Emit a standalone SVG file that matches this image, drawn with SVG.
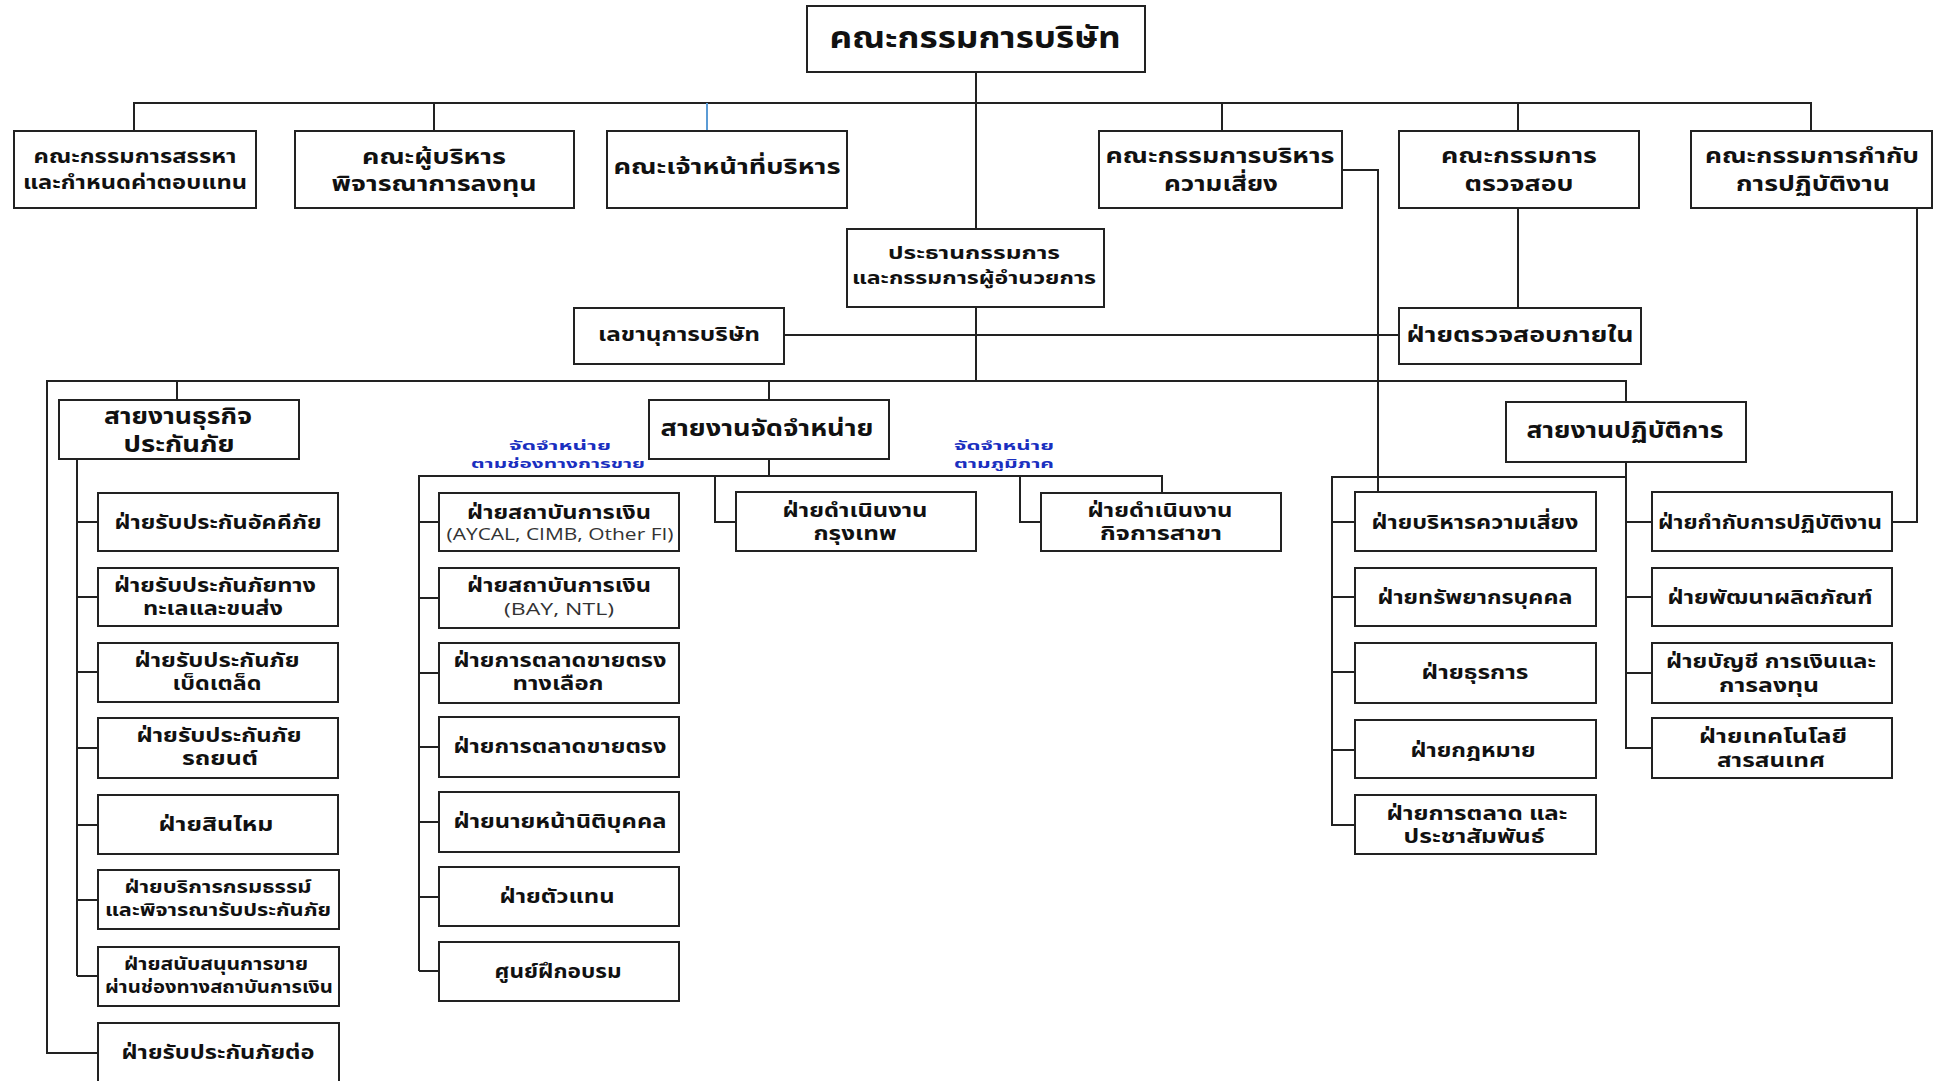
<svg xmlns="http://www.w3.org/2000/svg" width="1941" height="1081" viewBox="0 0 1941 1081">
<style>
.bg{fill:#fff}
.box{fill:#fff;stroke:#222;stroke-width:2}
.t{font-family:"Noto Sans Thai","Noto Sans","DejaVu Sans",sans-serif;font-weight:bold;text-anchor:middle;fill:#111;font-size:20px}
.big{font-size:30px}
.l2{font-size:21px}
.l1{font-size:19px}
.l3{font-size:23px}
.sm{font-size:17px}
.lat{font-family:"Open Sans","Noto Sans",sans-serif;font-weight:normal;fill:#333;font-size:16px}
.blue{font-family:"Noto Sans Thai","Noto Sans","DejaVu Sans",sans-serif;font-weight:bold;text-anchor:middle;fill:#1a2fbf;font-size:13px}
.c{fill:none;stroke:#222;stroke-width:2}
.cb{fill:none;stroke:#5b9bd5;stroke-width:2}
</style>
<rect class="bg" x="0" y="0" width="1941" height="1081"/>
<g id="connectors">
<path class="c" d="M976,72 V229"/>
<path class="c" d="M134,131 V103 H1811 V131"/>
<path class="c" d="M434,103 V131"/>
<path class="cb" d="M707,103 V131"/>
<path class="c" d="M1222,103 V131"/>
<path class="c" d="M1518,103 V131"/>
<path class="c" d="M1342,170 H1378 V492"/>
<path class="c" d="M1518,208 V308"/>
<path class="c" d="M1917,208 V522 H1891"/>
<path class="c" d="M976,307 V381"/>
<path class="c" d="M784,335 H1399"/>
<path class="c" d="M98,1053 H47 V381 H1626 V402"/>
<path class="c" d="M177,381 V400"/>
<path class="c" d="M769,381 V400"/>
<path class="c" d="M77,459 V976"/>
<path class="c" d="M77,522 H98 M77,597 H98 M77,672 H98 M77,748 H98 M77,825 H98 M77,900 H98 M77,976 H98"/>
<path class="c" d="M769,459 V476"/>
<path class="c" d="M419,971 V476 H1162 V493"/>
<path class="c" d="M419,522 H439 M419,598 H439 M419,673 H439 M419,747 H439 M419,822 H439 M419,897 H439 M419,971 H439"/>
<path class="c" d="M715,476 V522 H736"/>
<path class="c" d="M1020,476 V522 H1041"/>
<path class="c" d="M1626,462 V748 H1652"/>
<path class="c" d="M1626,522 H1652 M1626,597 H1652 M1626,673 H1652"/>
<path class="c" d="M1355,825 H1332 V477 H1626"/>
<path class="c" d="M1332,522 H1355 M1332,597 H1355 M1332,672 H1355 M1332,750 H1355"/>
</g>
<g id="n_board"><rect class="box" x="807" y="6" width="338" height="66"/><text class="t big" x="975" y="48" textLength="291" lengthAdjust="spacingAndGlyphs">คณะกรรมการบริษัท</text></g>
<g id="n_nom"><rect class="box" x="14" y="131" width="242" height="77"/><text class="t l1" x="135" y="163" textLength="203" lengthAdjust="spacingAndGlyphs">คณะกรรมการสรรหา</text><text class="t l1" x="135" y="189" textLength="224" lengthAdjust="spacingAndGlyphs">และกำหนดค่าตอบแทน</text></g>
<g id="n_invest"><rect class="box" x="295" y="131" width="279" height="77"/><text class="t l2" x="434" y="164" textLength="144" lengthAdjust="spacingAndGlyphs">คณะผู้บริหาร</text><text class="t l2" x="434" y="191" textLength="205" lengthAdjust="spacingAndGlyphs">พิจารณาการลงทุน</text></g>
<g id="n_exec"><rect class="box" x="607" y="131" width="240" height="77"/><text class="t l2" x="727" y="174" textLength="227" lengthAdjust="spacingAndGlyphs">คณะเจ้าหน้าที่บริหาร</text></g>
<g id="n_riskc"><rect class="box" x="1099" y="131" width="243" height="77"/><text class="t l2" x="1220" y="163" textLength="229" lengthAdjust="spacingAndGlyphs">คณะกรรมการบริหาร</text><text class="t l2" x="1221" y="191" textLength="114" lengthAdjust="spacingAndGlyphs">ความเสี่ยง</text></g>
<g id="n_auditc"><rect class="box" x="1399" y="131" width="240" height="77"/><text class="t l2" x="1519" y="163" textLength="156" lengthAdjust="spacingAndGlyphs">คณะกรรมการ</text><text class="t l2" x="1519" y="191" textLength="109" lengthAdjust="spacingAndGlyphs">ตรวจสอบ</text></g>
<g id="n_compc"><rect class="box" x="1691" y="131" width="241" height="77"/><text class="t l2" x="1812" y="163" textLength="214" lengthAdjust="spacingAndGlyphs">คณะกรรมการกำกับ</text><text class="t l2" x="1813" y="191" textLength="154" lengthAdjust="spacingAndGlyphs">การปฏิบัติงาน</text></g>
<g id="n_chair"><rect class="box" x="847" y="229" width="257" height="78"/><text class="t sm" x="974" y="259" textLength="172" lengthAdjust="spacingAndGlyphs">ประธานกรรมการ</text><text class="t sm" x="974" y="284" textLength="244" lengthAdjust="spacingAndGlyphs">และกรรมการผู้อำนวยการ</text></g>
<g id="n_sec"><rect class="box" x="574" y="308" width="210" height="56"/><text class="t l1" x="679" y="341" textLength="162" lengthAdjust="spacingAndGlyphs">เลขานุการบริษัท</text></g>
<g id="n_ia"><rect class="box" x="1399" y="308" width="242" height="56"/><text class="t l2" x="1520" y="342" textLength="227" lengthAdjust="spacingAndGlyphs">ฝ่ายตรวจสอบภายใน</text></g>
<g id="n_ins"><rect class="box" x="59" y="400" width="240" height="59"/><text class="t l3" x="178" y="424" textLength="148" lengthAdjust="spacingAndGlyphs">สายงานธุรกิจ</text><text class="t l3" x="179" y="452" textLength="111" lengthAdjust="spacingAndGlyphs">ประกันภัย</text></g>
<g id="n_dist"><rect class="box" x="649" y="400" width="240" height="59"/><text class="t l3" x="767" y="436" textLength="213" lengthAdjust="spacingAndGlyphs">สายงานจัดจำหน่าย</text></g>
<g id="n_ops"><rect class="box" x="1506" y="402" width="240" height="60"/><text class="t l3" x="1625" y="438" textLength="197" lengthAdjust="spacingAndGlyphs">สายงานปฏิบัติการ</text></g>
<g id="lbl_channel"><text class="blue" x="560" y="450" textLength="102" lengthAdjust="spacingAndGlyphs">จัดจำหน่าย</text><text class="blue" x="558" y="468" textLength="174" lengthAdjust="spacingAndGlyphs">ตามช่องทางการขาย</text></g>
<g id="lbl_region"><text class="blue" x="1004" y="450" textLength="100" lengthAdjust="spacingAndGlyphs">จัดจำหน่าย</text><text class="blue" x="1004" y="468" textLength="100" lengthAdjust="spacingAndGlyphs">ตามภูมิภาค</text></g>
<g id="n_fire"><rect class="box" x="98" y="493" width="240" height="58"/><text class="t" x="218" y="529" textLength="207" lengthAdjust="spacingAndGlyphs">ฝ่ายรับประกันอัคคีภัย</text></g>
<g id="n_marine"><rect class="box" x="98" y="568" width="240" height="58"/><text class="t" x="215" y="592" textLength="202" lengthAdjust="spacingAndGlyphs">ฝ่ายรับประกันภัยทาง</text><text class="t" x="213" y="615" textLength="140" lengthAdjust="spacingAndGlyphs">ทะเลและขนส่ง</text></g>
<g id="n_misc"><rect class="box" x="98" y="643" width="240" height="59"/><text class="t" x="217" y="667" textLength="165" lengthAdjust="spacingAndGlyphs">ฝ่ายรับประกันภัย</text><text class="t" x="217" y="690" textLength="89" lengthAdjust="spacingAndGlyphs">เบ็ดเตล็ด</text></g>
<g id="n_motor"><rect class="box" x="98" y="718" width="240" height="60"/><text class="t" x="219" y="742" textLength="165" lengthAdjust="spacingAndGlyphs">ฝ่ายรับประกันภัย</text><text class="t" x="220" y="765" textLength="76" lengthAdjust="spacingAndGlyphs">รถยนต์</text></g>
<g id="n_claim"><rect class="box" x="98" y="795" width="240" height="59"/><text class="t" x="216" y="831" textLength="115" lengthAdjust="spacingAndGlyphs">ฝ่ายสินไหม</text></g>
<g id="n_policy"><rect class="box" x="98" y="870" width="241" height="59"/><text class="t sm" x="218" y="893" textLength="187" lengthAdjust="spacingAndGlyphs">ฝ่ายบริการกรมธรรม์</text><text class="t sm" x="218" y="916" textLength="226" lengthAdjust="spacingAndGlyphs">และพิจารณารับประกันภัย</text></g>
<g id="n_bancsup"><rect class="box" x="98" y="947" width="241" height="59"/><text class="t sm" x="216" y="970" textLength="184" lengthAdjust="spacingAndGlyphs">ฝ่ายสนับสนุนการขาย</text><text class="t sm" x="219" y="993" textLength="228" lengthAdjust="spacingAndGlyphs">ผ่านช่องทางสถาบันการเงิน</text></g>
<g id="n_reins"><rect class="box" x="98" y="1023" width="241" height="70"/><text class="t" x="218" y="1059" textLength="193" lengthAdjust="spacingAndGlyphs">ฝ่ายรับประกันภัยต่อ</text></g>
<g id="n_fi1"><rect class="box" x="439" y="493" width="240" height="58"/><text class="t" x="559" y="519" textLength="184" lengthAdjust="spacingAndGlyphs">ฝ่ายสถาบันการเงิน</text><text class="t lat" x="560" y="540" textLength="227" lengthAdjust="spacingAndGlyphs">(AYCAL, CIMB, Other FI)</text></g>
<g id="n_fi2"><rect class="box" x="439" y="568" width="240" height="60"/><text class="t" x="559" y="592" textLength="184" lengthAdjust="spacingAndGlyphs">ฝ่ายสถาบันการเงิน</text><text class="t lat" x="559" y="615" textLength="110" lengthAdjust="spacingAndGlyphs">(BAY, NTL)</text></g>
<g id="n_dmalt"><rect class="box" x="439" y="643" width="240" height="60"/><text class="t" x="560" y="667" textLength="213" lengthAdjust="spacingAndGlyphs">ฝ่ายการตลาดขายตรง</text><text class="t" x="558" y="690" textLength="91" lengthAdjust="spacingAndGlyphs">ทางเลือก</text></g>
<g id="n_dm"><rect class="box" x="439" y="717" width="240" height="60"/><text class="t" x="560" y="753" textLength="213" lengthAdjust="spacingAndGlyphs">ฝ่ายการตลาดขายตรง</text></g>
<g id="n_broker"><rect class="box" x="439" y="792" width="240" height="60"/><text class="t" x="560" y="828" textLength="213" lengthAdjust="spacingAndGlyphs">ฝ่ายนายหน้านิติบุคคล</text></g>
<g id="n_agent"><rect class="box" x="439" y="867" width="240" height="59"/><text class="t" x="557" y="903" textLength="115" lengthAdjust="spacingAndGlyphs">ฝ่ายตัวแทน</text></g>
<g id="n_train"><rect class="box" x="439" y="942" width="240" height="59"/><text class="t" x="558" y="978" textLength="127" lengthAdjust="spacingAndGlyphs">ศูนย์ฝึกอบรม</text></g>
<g id="n_bkk"><rect class="box" x="736" y="492" width="240" height="59"/><text class="t" x="855" y="517" textLength="145" lengthAdjust="spacingAndGlyphs">ฝ่ายดำเนินงาน</text><text class="t" x="855" y="540" textLength="83" lengthAdjust="spacingAndGlyphs">กรุงเทพ</text></g>
<g id="n_branch"><rect class="box" x="1041" y="493" width="240" height="58"/><text class="t" x="1160" y="517" textLength="145" lengthAdjust="spacingAndGlyphs">ฝ่ายดำเนินงาน</text><text class="t" x="1161" y="540" textLength="122" lengthAdjust="spacingAndGlyphs">กิจการสาขา</text></g>
<g id="n_riskm"><rect class="box" x="1355" y="492" width="241" height="59"/><text class="t" x="1475" y="529" textLength="207" lengthAdjust="spacingAndGlyphs">ฝ่ายบริหารความเสี่ยง</text></g>
<g id="n_hr"><rect class="box" x="1355" y="568" width="241" height="58"/><text class="t" x="1475" y="604" textLength="195" lengthAdjust="spacingAndGlyphs">ฝ่ายทรัพยากรบุคคล</text></g>
<g id="n_admin"><rect class="box" x="1355" y="643" width="241" height="60"/><text class="t" x="1475" y="679" textLength="107" lengthAdjust="spacingAndGlyphs">ฝ่ายธุรการ</text></g>
<g id="n_legal"><rect class="box" x="1355" y="720" width="241" height="58"/><text class="t" x="1473" y="757" textLength="125" lengthAdjust="spacingAndGlyphs">ฝ่ายกฎหมาย</text></g>
<g id="n_mkt"><rect class="box" x="1355" y="795" width="241" height="59"/><text class="t" x="1477" y="820" textLength="181" lengthAdjust="spacingAndGlyphs">ฝ่ายการตลาด และ</text><text class="t" x="1474" y="843" textLength="141" lengthAdjust="spacingAndGlyphs">ประชาสัมพันธ์</text></g>
<g id="n_compl"><rect class="box" x="1652" y="492" width="240" height="59"/><text class="t" x="1770" y="529" textLength="224" lengthAdjust="spacingAndGlyphs">ฝ่ายกำกับการปฏิบัติงาน</text></g>
<g id="n_prod"><rect class="box" x="1652" y="568" width="240" height="58"/><text class="t" x="1770" y="604" textLength="205" lengthAdjust="spacingAndGlyphs">ฝ่ายพัฒนาผลิตภัณฑ์</text></g>
<g id="n_acct"><rect class="box" x="1652" y="643" width="240" height="60"/><text class="t" x="1771" y="668" textLength="210" lengthAdjust="spacingAndGlyphs">ฝ่ายบัญชี การเงินและ</text><text class="t" x="1769" y="692" textLength="100" lengthAdjust="spacingAndGlyphs">การลงทุน</text></g>
<g id="n_it"><rect class="box" x="1652" y="718" width="240" height="60"/><text class="t" x="1773" y="743" textLength="148" lengthAdjust="spacingAndGlyphs">ฝ่ายเทคโนโลยี</text><text class="t" x="1771" y="767" textLength="108" lengthAdjust="spacingAndGlyphs">สารสนเทศ</text></g>
</svg>
